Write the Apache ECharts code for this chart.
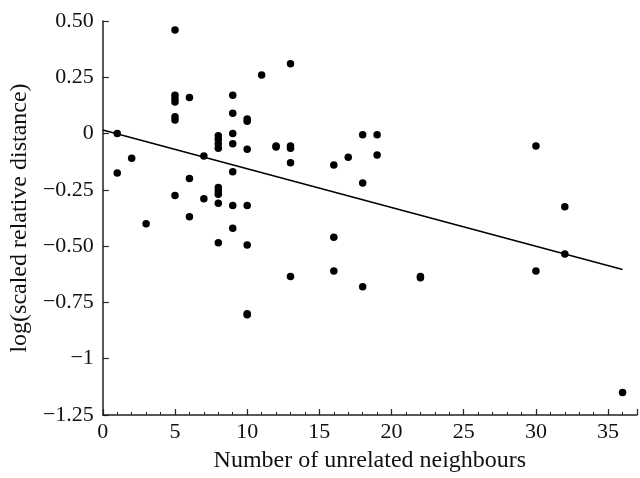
<!DOCTYPE html>
<html>
<head>
<meta charset="utf-8">
<script src="https://cdn.jsdelivr.net/npm/echarts@6/dist/echarts.min.js"></script>
<style>html,body{margin:0;padding:0;background:#fff;}#c{width:640px;height:478px;}</style>
</head>
<body>
<div id="c"></div>
<script>
var xValues = [1,1,2,3,5,5,5,5,5,5,5,6,6,6,7,7,8,8,8,8,8,8,8,8,8,9,9,9,9,9,9,9,10,10,10,10,10,10,10,11,12,12,13,13,13,13,13,16,16,16,17,18,18,18,19,19,22,22,30,30,32,32,36];
var yValues = [0.0,-0.175,-0.11,-0.40,0.46,0.17,0.155,0.14,0.075,0.06,-0.275,0.16,-0.20,-0.37,-0.10,-0.29,-0.01,-0.025,-0.045,-0.065,-0.24,-0.255,-0.27,-0.31,-0.485,0.17,0.09,0.0,-0.045,-0.17,-0.32,-0.42,0.065,0.055,-0.07,-0.32,-0.495,-0.80,-0.805,0.26,-0.055,-0.06,0.31,-0.055,-0.065,-0.13,-0.635,-0.14,-0.46,-0.61,-0.105,-0.005,-0.22,-0.68,-0.005,-0.095,-0.64,-0.635,-0.055,-0.61,-0.325,-0.535,-1.15];
var fitX = [0, 36];
var fitY = [0.016, -0.604];
var yTickValues = [0.5,0.25,0,-0.25,-0.5,-0.75,-1,-1.25];
var yTickLabels = ['0.50','0.25','0','\u22120.25','\u22120.50','\u22120.75','\u22121','\u22121.25'];
var xTitle = 'Number of unrelated neighbours';
var yTitle = 'log(scaled relative distance)';

var pts = xValues.map(function(x,i){return [x, yValues[i]];});
var fit = fitX.map(function(x,i){return [x, fitY[i]];});
var font = 'Liberation Serif';
var chart = echarts.init(document.getElementById('c'));
chart.setOption({
  animation:false,
  backgroundColor:'#fff',
  grid:{left:100, right:-3, top:21, bottom:63, containLabel:false},
  xAxis:{
    type:'value', min:0, max:37, interval:5,
    name:xTitle, nameLocation:'middle', nameGap:34,
    nameTextStyle:{fontFamily:font, fontSize:24, color:'#111'},
    axisLine:{show:true, onZero:false, lineStyle:{color:'#222', width:1.5}},
    axisTick:{show:true, inside:true, length:6, lineStyle:{color:'#222', width:1.2}},
    minorTick:{show:true, splitNumber:5, length:3, lineStyle:{color:'#222', width:1}},
    axisLabel:{fontFamily:font, fontSize:22, color:'#111', margin:6,
      formatter:function(v){return v>35?'':String(v);}},
    splitLine:{show:false}
  },
  yAxis:{
    type:'value', min:-1.25, max:0.5, interval:0.25,
    name:yTitle, nameLocation:'middle', nameGap:66, nameRotate:90,
    nameTextStyle:{fontFamily:font, fontSize:24, color:'#111'},
    axisLine:{show:true, onZero:false, lineStyle:{color:'#222', width:1.5}},
    axisTick:{show:true, inside:true, length:6, lineStyle:{color:'#222', width:1.2}},
    axisLabel:{fontFamily:font, fontSize:22, color:'#111', margin:9,
      formatter:function(v){
        for(var i=0;i<yTickValues.length;i++){ if(Math.abs(yTickValues[i]-v)<1e-6) return yTickLabels[i]; }
        return '';
      }},
    splitLine:{show:false}
  },
  series:[
    {type:'scatter', data:pts, symbol:'circle', symbolSize:7.5, itemStyle:{color:'#000', opacity:1}, z:3},
    {type:'line', data:fit, symbol:'none', lineStyle:{color:'#000', width:1.6}, z:2}
  ]
});
</script>
</body>
</html>
